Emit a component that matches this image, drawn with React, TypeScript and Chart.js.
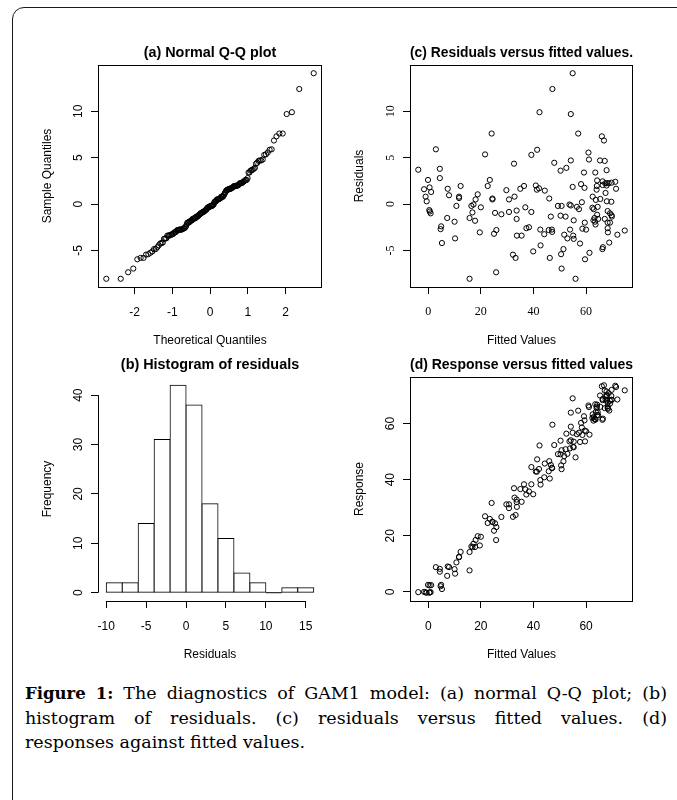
import React, { useEffect, useRef } from "react";
import { Chart, registerables } from "chart.js";

Chart.register(...registerables);

const SANS = "'Liberation Sans', Arial, Helvetica, sans-serif";
const SERIF = "'Liberation Serif', 'Times New Roman', serif";

// ---- data ----
const fittedValues = [
  -3.8, -1.6, -1.0, -0.6, -0.1, 0.5, 0.4, 0.6, 0.9, 1.1, 2.9, 4.4, 4.4, 4.9, 4.7, 5.2, 7.2, 7.4, 7.9, 10.0,
  10.2, 10.7, 11.7, 11.7, 12.3, 15.7, 15.7, 16.4, 16.8, 17.2, 17.8, 18.0, 18.8, 19.6, 20.0, 21.6, 22.6, 23.4, 24.1, 24.4,
  24.4, 25.0, 25.4, 25.9, 25.8, 27.8, 29.7, 30.7, 30.7, 32.2, 32.6, 32.8, 33.2, 33.6, 33.6, 33.7, 35.0, 35.5, 36.4, 36.9,
  37.3, 38.3, 39.2, 39.2, 39.9, 40.9, 41.3, 41.4, 42.1, 42.3, 42.6, 42.7, 44.1, 44.3, 45.8, 46.0, 46.2, 46.6, 47.0, 47.1,
  47.2, 47.9, 49.3, 50.3, 50.7, 50.3, 50.5, 50.7, 51.4, 51.7, 52.2, 52.5, 52.9, 53.7, 53.9, 54.2, 54.2, 54.2, 54.9, 54.9,
  55.1, 55.3, 55.3, 56.0, 56.5, 57.0, 57.3, 57.7, 58.1, 58.4, 58.6, 59.2, 59.4, 59.5, 59.6, 60.0, 60.9, 61.1, 61.3, 62.4,
  62.5, 62.8, 62.9, 63.2, 63.4, 63.5, 63.7, 64.0, 64.1, 64.2, 64.4, 64.2, 64.6, 65.3, 65.4, 66.0, 66.3, 66.3, 66.2, 66.4,
  66.8, 67.1, 67.1, 67.3, 67.4, 67.8, 67.8, 67.9, 67.9, 68.2, 68.2, 68.2, 68.3, 68.6, 68.8, 69.1, 69.1, 69.6, 69.7, 69.8,
  69.7, 71.1, 71.4, 71.9, 74.7, 63.6,
];
const residuals = [
  3.7, 1.6, 0.8, 0.3, 2.6, 1.8, -0.65, -0.8, -1.0, 1.3, 5.9, 3.8, 2.8, -2.4, -2.7, -4.2, -1.5, 1.65, 0.95, -1.9,
  -3.7, -0.2, 0.65, 0.8, 1.95, -8.05, -1.5, -0.2, -0.9, -0.05, -1.8, 0.5, 1.05, -3.05, -0.35, 5.35, 1.95, 2.6, 7.6, 0.6,
  0.5, -3.2, -0.95, -2.8, -7.35, -1.1, 1.5, 0.5, -0.85, -5.45, 4.35, 0.8, -5.8, -0.7, -1.6, -3.4, 1.65, -3.4, 1.95, -0.35,
  -2.6, -2.5, 5.3, -0.85, -5.1, 2.0, 1.55, 5.85, 1.7, 9.9, -2.75, -4.45, -3.25, 1.45, -2.8, 0.6, -5.8, -1.35, -2.75, -3.0,
  12.4, 4.45, -0.2, 3.6, -0.2, -1.25, -5.4, -6.95, -4.85, -3.3, -1.35, 3.9, -3.7, -0.05, -2.75, 9.7, 4.7, -0.15, 14.1, 1.85,
  -3.4, -3.75, -1.75, -8.05, -0.3, 7.6, -0.55, -4.25, 2.15, 0.2, -2.65, 3.4, 1.75, -2.0, -5.95, -2.75, 5.55, 4.8, -5.25, -0.4,
  0.8, -1.75, -0.55, -1.5, -1.9, 3.4, 0.45, 1.55, 1.95, 2.55, -0.3, -1.15, -1.6, 4.7, 0.55, 7.3, 2.45, 2.05, -4.85, -4.65,
  6.85, 4.65, -1.6, 2.25, 1.2, 3.65, 2.0, 2.25, 0.3, -0.75, -2.0, -2.6, -3.05, 2.25, -4.15, -1.0, -2.0, 0.25, -1.2, -1.35,
  2.3, 2.4, 1.65, -3.3, -2.85, -2.2,
];
const histBreaks = [-10, -8, -6, -4, -2, 0, 2, 4, 6, 8, 10, 12, 14, 16];
const histCounts = [2, 2, 14, 31, 42, 38, 18, 11, 4, 2, 0, 1, 1];

const qqXTicks = [-2, -1, 0, 1, 2];
const qqYTicks = [-5, 0, 5, 10];
const histXTicks = [-10, -5, 0, 5, 10, 15];
const histYTicks = [0, 10, 20, 30, 40];
const fittedTicks = [0, 20, 40, 60];
const residTicks = [-5, 0, 5, 10];
const responseTicks = [0, 20, 40, 60];

const titles = {
  a: "(a) Normal Q-Q plot",
  b: "(b) Histogram of residuals",
  c: "(c) Residuals versus fitted values.",
  d: "(d) Response versus fitted values",
};

// ---- helpers ----
function qnorm(p: number): number {
  const a = [-3.969683028665376e1, 2.209460984245205e2, -2.759285104469687e2, 1.38357751867269e2, -3.066479806614716e1, 2.506628277459239];
  const b = [-5.447609879822406e1, 1.615858368580409e2, -1.556989798598866e2, 6.680131188771972e1, -1.328068155288572e1];
  const c = [-7.784894002430293e-3, -3.223964580411365e-1, -2.400758277161838, -2.549732539343734, 4.374664141464968, 2.938163982698783];
  const d = [7.784695709041462e-3, 3.224671290700398e-1, 2.445134137142996, 3.754408661907416];
  const pl = 0.02425;
  if (p < pl) {
    const q = Math.sqrt(-2 * Math.log(p));
    return (((((c[0] * q + c[1]) * q + c[2]) * q + c[3]) * q + c[4]) * q + c[5]) / ((((d[0] * q + d[1]) * q + d[2]) * q + d[3]) * q + 1);
  }
  if (p <= 1 - pl) {
    const q = p - 0.5;
    const r = q * q;
    return ((((((a[0] * r + a[1]) * r + a[2]) * r + a[3]) * r + a[4]) * r + a[5]) * q) / (((((b[0] * r + b[1]) * r + b[2]) * r + b[3]) * r + b[4]) * r + 1);
  }
  const q = Math.sqrt(-2 * Math.log(1 - p));
  return -(((((c[0] * q + c[1]) * q + c[2]) * q + c[3]) * q + c[4]) * q + c[5]) / ((((d[0] * q + d[1]) * q + d[2]) * q + d[3]) * q + 1);
}

function extendRange(values: number[]): [number, number] {
  const lo = Math.min(...values);
  const hi = Math.max(...values);
  const d = (hi - lo) * 0.04;
  return [lo - d, hi + d];
}

const N = Math.min(fittedValues.length, residuals.length);
const fitted = fittedValues.slice(0, N);
const resid = residuals.slice(0, N);
const response = fitted.map((f, i) => f + resid[i]);
const sortedResid = [...resid].sort((x, y) => x - y);
const theoretical = sortedResid.map((_, i) => qnorm((i + 1 - 0.5) / N));

// ---- layout (plot regions in page pixels: left, top, right, bottom) ----
const AREA = {
  a: [98, 65, 322, 287],
  c: [410, 65, 633, 287],
  b: [98, 377, 322, 601],
  d: [410, 377, 633, 601],
};
const LEFT_W = 78;
const TOP_H = 30;
const BOTTOM_H = 70;
const RIGHT_W = 8;

type PanelSpec = {
  type: "scatter" | "bar";
  datasets: any[];
  area: number[];
  xRange: [number, number];
  yRange: [number, number];
  xTicks: number[];
  yTicks: number[];
  title: string;
  xTitle: string;
  yTitle: string;
  tickFamily: string;
  boxed: boolean;
};

function buildConfig(p: PanelSpec): any {
  const tickFont = { family: p.tickFamily, size: 12 };
  const rPlugin = {
    id: "rStyle",
    afterDraw(chart: any) {
      const { ctx, chartArea: a, scales } = chart;
      const x = scales.x;
      const y = scales.y;
      ctx.save();
      ctx.strokeStyle = "#000";
      ctx.lineWidth = 1;
      if (p.boxed) {
        ctx.strokeRect(Math.round(a.left) + 0.5, Math.round(a.top) + 0.5, Math.round(a.right - a.left) - 1, Math.round(a.bottom - a.top));
      } else {
        const yb = Math.round(a.bottom) + 0.5;
        ctx.beginPath();
        ctx.moveTo(x.getPixelForValue(p.xTicks[0]), yb);
        ctx.lineTo(x.getPixelForValue(p.xTicks[p.xTicks.length - 1]), yb);
        const xl = Math.round(a.left) + 0.5;
        ctx.moveTo(xl, y.getPixelForValue(p.yTicks[0]));
        ctx.lineTo(xl, y.getPixelForValue(p.yTicks[p.yTicks.length - 1]));
        ctx.stroke();
        // empty histogram bins drawn as a flat line
        if (p.type === "bar") {
          const y0 = y.getPixelForValue(0);
          ctx.beginPath();
          histCounts.forEach((cnt, i) => {
            if (cnt === 0) {
              ctx.moveTo(x.getPixelForValue(histBreaks[i]), y0);
              ctx.lineTo(x.getPixelForValue(histBreaks[i + 1]), y0);
            }
          });
          ctx.stroke();
        }
      }
      // rotated y tick labels (R style, las = 0)
      ctx.fillStyle = "#000";
      ctx.font = `12px ${p.tickFamily}`;
      ctx.textAlign = "center";
      ctx.textBaseline = "middle";
      for (const t of y.ticks) {
        const py = y.getPixelForValue(t.value);
        ctx.save();
        ctx.translate(a.left - 19.5, py);
        ctx.rotate(-Math.PI / 2);
        ctx.fillText(String(t.value), 0, 0);
        ctx.restore();
      }
      ctx.restore();
    },
  };

  const gridOpts = { display: true, drawOnChartArea: false, drawTicks: true, tickLength: 7, color: "#000", lineWidth: 1, offset: false };

  return {
    type: p.type,
    data: { datasets: p.datasets },
    options: {
      animation: false,
      responsive: false,
      maintainAspectRatio: false,
      events: [],
      layout: { autoPadding: false, padding: { left: 0, right: RIGHT_W, top: 0, bottom: 0 } },
      plugins: {
        legend: { display: false },
        tooltip: { enabled: false },
        title: {
          display: true,
          fullSize: false,
          text: p.title,
          color: "#000",
          font: { family: SANS, size: 14.4, weight: "bold", lineHeight: 1.2 },
          padding: { top: 9.36, bottom: 3.36 },
        },
      },
      scales: {
        x: {
          type: "linear",
          position: "bottom",
          offset: false,
          bounds: "data",
          min: p.xRange[0],
          max: p.xRange[1],
          afterBuildTicks: (s: any) => {
            s.ticks = p.xTicks.map((v) => ({ value: v }));
          },
          afterFit: (s: any) => {
            s.height = BOTTOM_H;
          },
          grid: gridOpts,
          border: { display: false },
          ticks: {
            display: true,
            autoSkip: false,
            maxRotation: 0,
            minRotation: 0,
            padding: 11,
            color: "#000",
            font: tickFont,
            callback: (v: any) => String(v),
          },
          title: {
            display: true,
            text: p.xTitle,
            color: "#000",
            font: { family: SANS, size: 12, lineHeight: 1.2 },
            padding: { top: 0, bottom: 8.8 },
          },
        },
        y: {
          type: "linear",
          position: "left",
          bounds: "data",
          min: p.yRange[0],
          max: p.yRange[1],
          afterBuildTicks: (s: any) => {
            s.ticks = p.yTicks.map((v) => ({ value: v }));
          },
          afterFit: (s: any) => {
            s.width = LEFT_W;
          },
          grid: gridOpts,
          border: { display: false },
          ticks: { display: false },
          title: {
            display: true,
            text: p.yTitle,
            color: "#000",
            font: { family: SANS, size: 12, lineHeight: 1.2 },
            padding: { top: 20.8, bottom: 0 },
          },
        },
      },
    },
    plugins: [rPlugin],
  };
}

function pointDataset(data: { x: number; y: number }[]) {
  return {
    data,
    showLine: false,
    pointStyle: "circle",
    pointRadius: 2.6,
    pointBorderWidth: 1,
    pointBorderColor: "#000",
    pointBackgroundColor: "rgba(0,0,0,0)",
    borderColor: "#000",
    backgroundColor: "rgba(0,0,0,0)",
    clip: false,
  };
}

const histCenters = histCounts.map((_, i) => (histBreaks[i] + histBreaks[i + 1]) / 2);

const specs: Record<string, PanelSpec> = {
  a: {
    type: "scatter",
    datasets: [pointDataset(theoretical.map((t, i) => ({ x: t, y: sortedResid[i] })))],
    area: AREA.a,
    xRange: extendRange(theoretical),
    yRange: extendRange(sortedResid),
    xTicks: qqXTicks,
    yTicks: qqYTicks,
    title: titles.a,
    xTitle: "Theoretical Quantiles",
    yTitle: "Sample Quantiles",
    tickFamily: SANS,
    boxed: true,
  },
  c: {
    type: "scatter",
    datasets: [pointDataset(fitted.map((f, i) => ({ x: f, y: resid[i] })))],
    area: AREA.c,
    xRange: extendRange(fitted),
    yRange: extendRange(resid),
    xTicks: fittedTicks,
    yTicks: residTicks,
    title: titles.c,
    xTitle: "Fitted Values",
    yTitle: "Residuals",
    tickFamily: SERIF,
    boxed: true,
  },
  b: {
    type: "bar",
    datasets: [
      {
        data: histCounts.map((cnt, i) => ({ x: histCenters[i], y: cnt })),
        backgroundColor: "#fff",
        borderColor: "#000",
        borderWidth: 1,
        borderSkipped: false,
        inflateAmount: 0.5,
        barPercentage: 1,
        categoryPercentage: 1,
        grouped: false,
      },
    ],
    area: AREA.b,
    xRange: extendRange([histBreaks[0], histBreaks[histBreaks.length - 1]]),
    yRange: extendRange([0, ...histCounts]),
    xTicks: histXTicks,
    yTicks: histYTicks,
    title: titles.b,
    xTitle: "Residuals",
    yTitle: "Frequency",
    tickFamily: SANS,
    boxed: false,
  },
  d: {
    type: "scatter",
    datasets: [pointDataset(fitted.map((f, i) => ({ x: f, y: response[i] })))],
    area: AREA.d,
    xRange: extendRange(fitted),
    yRange: extendRange(response),
    xTicks: fittedTicks,
    yTicks: responseTicks,
    title: titles.d,
    xTitle: "Fitted Values",
    yTitle: "Response",
    tickFamily: SANS,
    boxed: true,
  },
};

function Panel({ spec }: { spec: PanelSpec }) {
  const ref = useRef<HTMLCanvasElement>(null);
  const [l, t, r, b] = spec.area;
  const left = l - LEFT_W;
  const top = t - TOP_H;
  const width = r - l + LEFT_W + RIGHT_W;
  const height = b - t + TOP_H + BOTTOM_H;
  useEffect(() => {
    if (!ref.current) return;
    const chart = new Chart(ref.current, buildConfig(spec));
    return () => chart.destroy();
  }, [spec]);
  return (
    <canvas
      ref={ref}
      width={width}
      height={height}
      style={{ position: "absolute", left, top, width, height, display: "block" }}
    />
  );
}

export default function App() {
  const lineStyle: React.CSSProperties = {
    textAlign: "justify",
    textAlignLast: "justify" as any,
    whiteSpace: "nowrap",
    height: 24.5,
  };
  return (
    <div
      style={{
        position: "absolute",
        left: 0,
        top: 0,
        width: 677,
        height: 800,
        overflow: "hidden",
        background: "#fff",
      }}
    >
      <div
        style={{
          position: "absolute",
          left: 12,
          top: 7,
          width: 800,
          height: 900,
          border: "1.6px solid #1a1a1a",
          borderRadius: 12,
          boxSizing: "border-box",
        }}
      />
      <Panel spec={specs.a} />
      <Panel spec={specs.c} />
      <Panel spec={specs.b} />
      <Panel spec={specs.d} />
      <div
        style={{
          position: "absolute",
          left: 25,
          top: 681,
          width: 642,
          fontFamily: "'DejaVu Serif', serif",
          fontSize: 17.5,
          lineHeight: "24.5px",
          color: "#000",
        }}
      >
        <div style={lineStyle}>
          <b style={{ fontSize: 16.5 }}>Figure 1:</b> The diagnostics of GAM1 model: (a) normal Q-Q plot; (b)
        </div>
        <div style={lineStyle}>histogram of residuals. (c) residuals versus fitted values. (d)</div>
        <div style={{ whiteSpace: "nowrap", height: 24.5 }}>responses against fitted values.</div>
      </div>
    </div>
  );
}
